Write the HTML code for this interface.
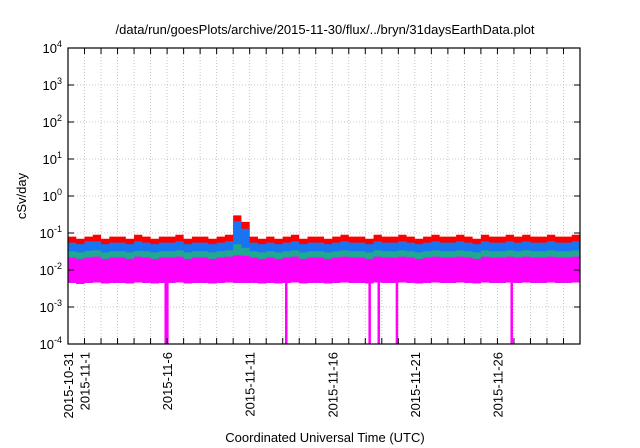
<!DOCTYPE html>
<html><head><meta charset="utf-8"><style>
body{margin:0;background:#fff}
svg{display:block;font-family:"Liberation Sans",sans-serif}
</style></head><body>
<svg id="c" width="640" height="448">
<text x="325" y="34" text-anchor="middle" font-size="13">/data/run/goesPlots/archive/2015-11-30/flux/../bryn/31daysEarthData.plot</text>
<text transform="translate(26,196) rotate(-90)" text-anchor="middle" font-size="13">cSv/day</text>
<text x="325" y="442" text-anchor="middle" font-size="13">Coordinated Universal Time (UTC)</text>
<g id="grid"></g><g id="series"></g><g id="axes"></g>
</svg>
<script>
const xTickLabels=["2015-10-31","2015-11-1","2015-11-6","2015-11-11","2015-11-16","2015-11-21","2015-11-26"];
const xTickDays=[0,1,6,11,16,21,26];
const yTickExps=[-4,-3,-2,-1,0,1,2,3,4];
const redTop=[.08,.07,.08,.09,.07,.08,.08,.07,.09,.08,.07,.08,.08,.09,.07,.08,.08,.07,.08,.09,.30,.20,.08,.07,.08,.07,.08,.09,.07,.08,.08,.07,.08,.09,.08,.08,.07,.09,.08,.08,.09,.08,.07,.08,.09,.08,.08,.09,.08,.07,.09,.08,.08,.09,.08,.09,.08,.08,.09,.08,.08,.09];
const blueTop=[.055,.05,.06,.06,.05,.055,.055,.05,.06,.055,.05,.055,.055,.06,.05,.055,.055,.05,.055,.06,.21,.13,.055,.05,.055,.05,.055,.06,.05,.055,.055,.05,.055,.06,.055,.055,.05,.06,.055,.055,.06,.055,.05,.055,.06,.055,.055,.06,.055,.05,.06,.055,.055,.06,.055,.06,.055,.055,.06,.055,.055,.06];
const greenTop=[.032,.03,.033,.034,.03,.032,.032,.03,.033,.032,.03,.032,.032,.034,.03,.032,.032,.03,.032,.034,.05,.04,.032,.03,.032,.03,.032,.034,.03,.032,.032,.03,.032,.034,.032,.032,.03,.034,.032,.032,.034,.032,.03,.032,.034,.032,.032,.034,.032,.03,.034,.032,.032,.034,.032,.034,.032,.032,.034,.032,.032,.034];
const magentaTop=[.022,.02,.022,.023,.02,.022,.022,.02,.023,.022,.02,.022,.022,.023,.02,.022,.022,.02,.022,.023,.025,.024,.022,.02,.022,.02,.022,.023,.02,.022,.022,.02,.022,.023,.022,.022,.02,.023,.022,.022,.023,.022,.02,.022,.023,.022,.022,.023,.022,.02,.023,.022,.022,.023,.022,.023,.022,.022,.023,.022,.022,.023];
const magentaBottom=[.0045,.0042,.0045,.0046,.0044,.0045,.0045,.0043,.0046,.0045,.0044,.0045,.0045,.0046,.0044,.0045,.0045,.0043,.0045,.0046,.0045,.0045,.0045,.0043,.0045,.0044,.0045,.0046,.0044,.0045,.0045,.0043,.0045,.0046,.0045,.0045,.0044,.0046,.0045,.0045,.0046,.0045,.0044,.0045,.0046,.0045,.0045,.0046,.0045,.0044,.0046,.0045,.0045,.0046,.0045,.0046,.0045,.0045,.0046,.0045,.0045,.0046];
const dropoutDays=[5.9,6.0,13.2,18.25,18.8,19.9,26.85];
const L=68,R=580,T=48,B=344,D0=0,D1=31;
const NS="http://www.w3.org/2000/svg";
const x=d=>L+(d-D0)/(D1-D0)*(R-L);
const y=v=>B-(Math.log10(v)+4)/8*(B-T);
function mk(t,a,p){const e=document.createElementNS(NS,t);for(const k in a)e.setAttribute(k,a[k]);p.appendChild(e);return e;}
const grid=document.getElementById('grid'),ser=document.getElementById('series'),ax=document.getElementById('axes');
for(let d=1;d<31;d++){const l=mk('line',{x1:x(d),x2:x(d),y1:T,y2:B,stroke:'#bbb','stroke-dasharray':'1,2','stroke-width':0.8},grid);

}
yTickExps.forEach(e=>{const v=Math.pow(10,e);if(e>-4&&e<4){const l=mk('line',{x1:L,x2:R,y1:y(v),y2:y(v),stroke:'#bbb','stroke-dasharray':'1,2','stroke-width':0.8},grid);

}
const t=mk('text',{x:L-6,y:y(v)+5,'text-anchor':'end','font-size':13},ax);


t.innerHTML='10<tspan dy="-6" font-size="9">'+e+'</tspan>';
mk('line',{x1:L,x2:L+6,y1:y(v),y2:y(v),stroke:'#000'},ax);mk('line',{x1:R,x2:R-6,y1:y(v),y2:y(v),stroke:'#000'},ax);});
function band(top,bot,color,name){const n=top.length,w=(D1-D0)/n;let pts=[];
for(let i=0;i<n;i++){pts.push([x(i*w),y(top[i])],[x((i+1)*w),y(top[i])]);}
for(let i=n-1;i>=0;i--){pts.push([x((i+1)*w),y(bot[i])],[x(i*w),y(bot[i])]);}
const p=mk('polygon',{points:pts.map(q=>q.join(',')).join(' '),fill:color},ser);

}
band(redTop,magentaBottom,'#ff0000','series-red');
band(blueTop,magentaBottom,'#1874f0','series-blue');
band(greenTop,magentaBottom,'#20a890','series-green');
band(magentaTop,magentaBottom,'#ff00ff','series-magenta');
dropoutDays.forEach(d=>{const r=mk('rect',{x:x(d)-1,y:y(0.005),width:2.5,height:B-y(0.005),fill:'#ff00ff'},ser);

});
for(let d=1;d<31;d++){mk('line',{x1:x(d),x2:x(d),y1:B,y2:B-6,stroke:'#000'},ax);mk('line',{x1:x(d),x2:x(d),y1:T,y2:T+6,stroke:'#000'},ax);}
xTickLabels.forEach((s,i)=>{const t=mk('text',{transform:`translate(${x(xTickDays[i])+5},352) rotate(-90)`,'text-anchor':'end','font-size':13},ax);


t.textContent=s;});
const f=mk('rect',{x:L,y:T,width:R-L,height:B-T,fill:'none',stroke:'#000','stroke-width':1.2},ax);


</script>
</body></html>
